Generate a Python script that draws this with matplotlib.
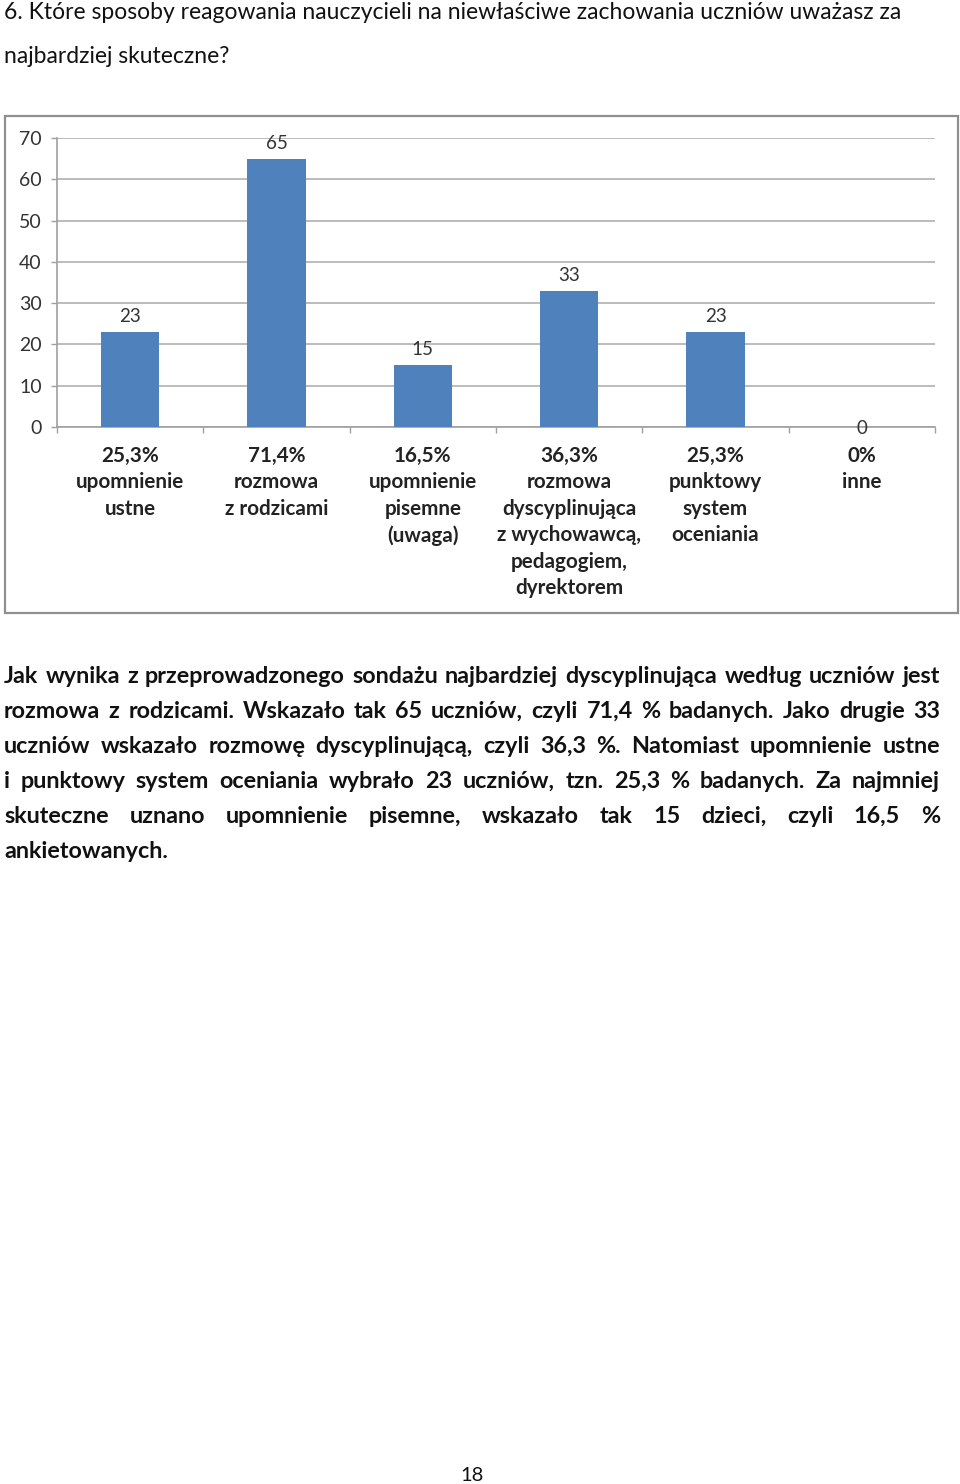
import matplotlib
matplotlib.use("Agg")
import matplotlib.pyplot as plt
from matplotlib.patches import Rectangle
from matplotlib.transforms import blended_transform_factory

plt.rcParams['font.family'] = ['Lato', 'DejaVu Sans']

# --- data ---
categories = [
    "25,3%\nupomnienie\nustne",
    "71,4%\nrozmowa\nz rodzicami",
    "16,5%\nupomnienie\npisemne\n(uwaga)",
    "36,3%\nrozmowa\ndyscyplinująca\nz wychowawcą,\npedagogiem,\ndyrektorem",
    "25,3%\npunktowy\nsystem\noceniania",
    "0%\ninne",
]
counts = [23, 65, 15, 33, 23, 0]
y_ticks = [0, 10, 20, 30, 40, 50, 60, 70]

title_lines = [
    "6. Które sposoby reagowania nauczycieli na niewłaściwe zachowania uczniów uważasz za",
    "najbardziej skuteczne?",
]
body_lines = [
    "Jak wynika z przeprowadzonego sondażu najbardziej dyscyplinująca według uczniów jest",
    "rozmowa z rodzicami. Wskazało tak 65 uczniów, czyli  71,4 % badanych. Jako drugie 33",
    "uczniów wskazało rozmowę dyscyplinującą, czyli 36,3 %. Natomiast upomnienie ustne",
    "i punktowy system oceniania wybrało 23 uczniów, tzn. 25,3 % badanych. Za najmniej",
    "skuteczne uznano upomnienie pisemne, wskazało tak 15 dzieci, czyli 16,5 %",
    "ankietowanych.",
]
page_number = "18"

W, H = 960, 1484
fig = plt.figure(figsize=(W / 100, H / 100), dpi=100)
fig.patch.set_facecolor('white')


def fx(px):
    return px / W


def fy(py):
    return 1 - py / H


# title (regular)
for i, line in enumerate(title_lines):
    fig.text(fx(4), fy(19 + 44 * i), line, fontsize=16.5, color='#111111',
             ha='left', va='baseline')

# chart frame
fig.patches.append(Rectangle((fx(5), fy(613)), fx(958) - fx(5), fy(116) - fy(613),
                             transform=fig.transFigure, fill=False,
                             edgecolor='#8f8f8f', linewidth=1.6))

# chart axes
ax = fig.add_axes([fx(57), fy(427), fx(935) - fx(57), fy(138) - fy(427)])
x = list(range(len(counts)))
ax.bar(x, counts, width=0.4, color='#4f81bd', zorder=3)
ax.set_xlim(-0.5, len(counts) - 0.5)
ax.set_ylim(0, 70)
ax.set_yticks(y_ticks)
ax.set_yticklabels([str(v) for v in y_ticks], fontsize=14, color='#333333')
ax.set_xticks([i - 0.5 for i in range(len(counts) + 1)])
ax.set_xticklabels([])
ax.tick_params(axis='both', direction='out', length=4, width=1, color='#a0a0a0')
ax.tick_params(axis='y', pad=7)
ax.yaxis.grid(True, color='#b0b0b0', linewidth=1.2, zorder=0)
for s in ['top', 'right']:
    ax.spines[s].set_visible(False)
for s in ['left', 'bottom']:
    ax.spines[s].set_color('#a0a0a0')
    ax.spines[s].set_linewidth(1.2)

for xi, v in zip(x, counts):
    if v == 0:
        # zero label sits on the axis line
        ax.annotate(str(v), (xi, v), xytext=(0, -1), textcoords='offset points',
                    ha='center', va='center', fontsize=13.5, color='#333333', zorder=4)
    else:
        ax.annotate(str(v), (xi, v), xytext=(0, 5), textcoords='offset points',
                    ha='center', va='bottom', fontsize=13.5, color='#333333')

trans = blended_transform_factory(ax.transData, fig.transFigure)
for xi, lab in zip(x, categories):
    ax.text(xi, fy(446), lab, transform=trans, ha='center', va='top',
            fontsize=14.9, fontweight='bold', color='#222222', linespacing=1.4)

# body text, justified
renderer = fig.canvas.get_renderer()
left, right = 4, 940
body_kw = dict(fontsize=16.8, fontweight='bold', color='#111111', va='baseline')
for i, line in enumerate(body_lines):
    yb = fy(683 + 35 * i)
    words = line.split()
    last = i == len(body_lines) - 1
    if last:
        fig.text(fx(left), yb, line, ha='left', **body_kw)
        continue
    objs = [fig.text(0, yb, w, ha='left', **body_kw) for w in words]
    widths = [o.get_window_extent(renderer).width for o in objs]
    gap = (right - left - sum(widths)) / (len(words) - 1)
    pos = left
    for o, w in zip(objs, widths):
        o.set_x(fx(pos))
        pos += w + gap

fig.text(fx(472), fy(1481), page_number, fontsize=14.5, color='#111111',
         ha='center', va='baseline')

fig.savefig("out.png", dpi=100)
